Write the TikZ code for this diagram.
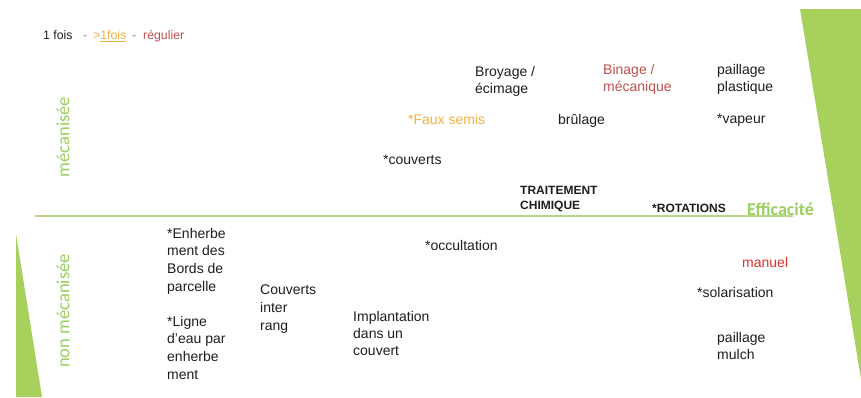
\documentclass[tikz,border=0pt]{standalone}
\usepackage{fontspec}
\setmainfont{Liberation Sans}
\newfontfamily\calib{Carlito}
\usetikzlibrary{arrows.meta}
\definecolor{lgreen}{HTML}{A8D05C}
\definecolor{tgreen}{HTML}{9BCF5E}
\definecolor{axcol}{HTML}{B8D68F}
\definecolor{tcol}{HTML}{1E1E1E}
\definecolor{dred}{HTML}{C0504D}
\definecolor{bred}{HTML}{E0302E}
\definecolor{ocol}{HTML}{F0B23E}
\definecolor{lgrey}{HTML}{888888}
\begin{document}
\begin{tikzpicture}[x=1pt,y=-1pt,
  txt/.style={anchor=north west, inner sep=0pt, align=left, text=tcol,
              font=\fontsize{14}{17.6}\selectfont},
  bold/.style={txt, font=\fontsize{12}{15}\bfseries\selectfont},
  legend/.style={anchor=base west, inner sep=0pt, font=\fontsize{12.3}{14}\selectfont},
  side/.style={rotate=90, inner sep=0pt, text=tgreen, font=\calib\fontsize{18.5}{20}\selectfont},
  axis/.style={draw=axcol, line width=1.4pt}
]
\useasboundingbox (0,0) rectangle (861,397);
\fill[white] (0,0) rectangle (861,397);

% green decorations
\fill[lgreen] (800,9) -- (861,9) -- (861,379) -- cycle;
\fill[lgreen] (16,234) -- (42,397) -- (16,397) -- cycle;

% legend
\node[legend, text=tcol] (l1) at (43,39.5) {1 fois};
\node[legend, text=lgrey] (l2) at (83,39.5) {-};
\node[legend, text=ocol] (l3) at (93,39.5) {>\underline{1fois}};
\node[legend, text=lgrey] (l4) at (132,39.5) {-};
\node[legend, text=dred] (l5) at (143,39.5) {régulier};

% axis
\coordinate (axl) at (35,216);
\coordinate (axr) at (794,216);
\draw[axis, -{Stealth[length=5pt,width=4pt]}] (axl) -- (axr);

% side labels
\node[side] (mec) at (63,137) {mécanisée};
\node[side] (nonmec) at (63,311) {non mécanisée};
\node[anchor=west, inner sep=0pt, text=tgreen, font=\calib\fontsize{18}{20}\bfseries\selectfont] (eff) at (747,209) {Efficacité};

% upper half
\node[txt] (broy) at (475,66) {Broyage /\\écimage};
\node[txt, text=dred] (bin) at (603,64) {Binage /\\mécanique};
\node[txt] (paip) at (717,64) {paillage\\plastique};
\node[txt, text=ocol] (faux) at (408,114) {*Faux semis};
\node[txt] (brul) at (558,114) {brûlage};
\node[txt] (vap) at (717,114) {*vapeur};
\node[txt] (couv) at (383,155) {*couverts};
\node[bold] (trait) at (520,186) {TRAITEMENT\\CHIMIQUE};
\node[bold] (rot) at (652,204) {*ROTATIONS};

% lower half
\node[txt] (enh) at (167,228) {*Enherbe\\ment des\\Bords de\\parcelle\\[17.6pt]*Ligne\\d'eau par\\enherbe\\ment};
\node[txt] (couvi) at (260,285) {Couverts\\inter\\rang};
\node[txt] (occ) at (425,240) {*occultation};
\node[txt, font=\fontsize{14}{17}\selectfont] (impl) at (353,311) {Implantation\\dans un\\couvert};
\node[txt, text=bred] (man) at (742,257) {manuel};
\node[txt] (sol) at (697,287) {*solarisation};
\node[txt] (paim) at (717,332) {paillage\\mulch};
\end{tikzpicture}
\end{document}
